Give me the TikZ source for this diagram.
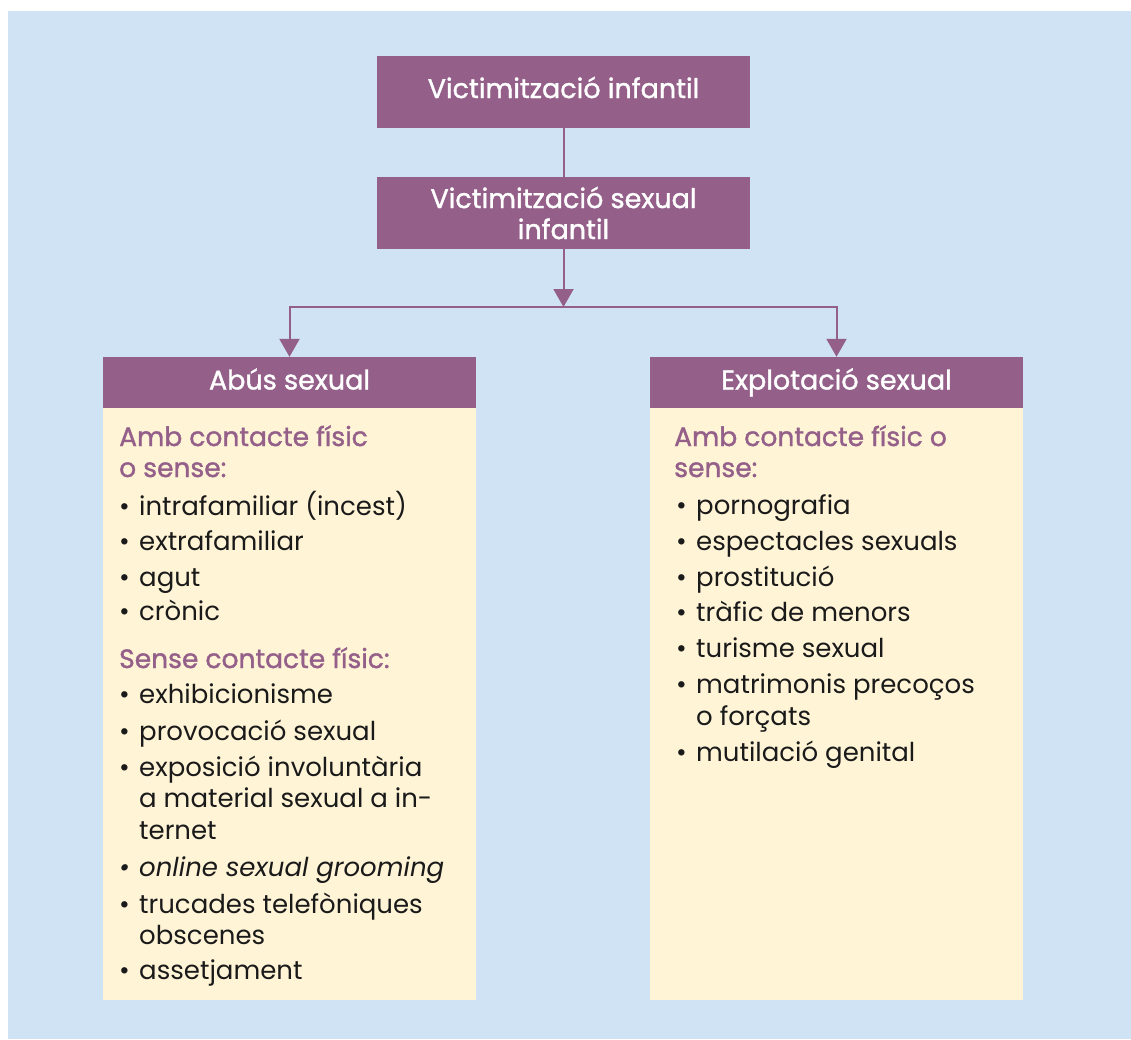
\documentclass[tikz,border=0pt]{standalone}
\usepackage{fontspec}
\setmainfont{Poppins}
\newfontfamily\medfont[FakeBold=1.3]{Poppins}
\usetikzlibrary{arrows.meta}
\definecolor{bgblue}{HTML}{D0E3F4}
\definecolor{plum}{HTML}{94608A}
\definecolor{cream}{HTML}{FFF4D6}
\definecolor{ink}{HTML}{1A1A1A}
\newcommand\bodysize{\fontsize{26}{30}\selectfont}
\newcommand\bl{\makebox[20pt][l]{•}}
\tikzset{
  topbox/.style={fill=plum, text=white, minimum width=373pt, minimum height=72pt,
    inner sep=0pt, align=center, font=\medfont\fontsize{27}{31}\selectfont},
  headbox/.style={fill=plum, text=white, minimum width=373pt, minimum height=51pt,
    inner sep=0pt, text height=19pt, text depth=5pt, font=\medfont\fontsize{27}{30}\selectfont},
  bodybox/.style={fill=cream, minimum width=373pt, minimum height=592pt, inner sep=0pt},
  subhead/.style={anchor=base west, inner sep=0pt, text=plum, font=\medfont\fontsize{26.5}{30}\selectfont},
  item/.style={anchor=base west, inner sep=0pt, text=ink, font=\bodysize},
  link/.style={draw=plum, line width=2pt},
  arrowlink/.style={link, -{Triangle[length=18pt,width=20pt]}}
}
\begin{document}
\begin{tikzpicture}[x=1pt,y=-1pt]
\useasboundingbox (0,0) rectangle (1131,1039);
\fill[bgblue] (8,11) rectangle (1131,1039);

\node[topbox, text height=18pt, text depth=6pt] (vi) at (563.5,92) {Victimització infantil};
\node[topbox] (vsi) at (563.5,213) {Victimització sexual\\infantil};
\node[headbox] (abus) at (289.5,382.5) {Abús sexual};
\node[headbox] (expl) at (836.5,382.5) {Explotació sexual};
\node[bodybox] (abusbody) at (289.5,704) {};
\node[bodybox] (explbody) at (836.5,704) {};

\coordinate (J) at (563.5,307);
\draw[link] (vi.south) -- (vsi.north);
\draw[arrowlink] (vsi.south) -- (J);
\draw[arrowlink] (J) -| (abus.north);
\draw[arrowlink] (J) -| (expl.north);

% left list
\node[subhead] (la1) at (119,446) {Amb contacte físic};
\node[subhead] (la2) at (119,477) {o sense:};
\node[item] (lb1) at (119,515) {\bl intrafamiliar (incest)};
\node[item] (lb2) at (119,550) {\bl extrafamiliar};
\node[item] (lb3) at (119,586) {\bl agut};
\node[item] (lb4) at (119,620) {\bl crònic};
\node[subhead] (lc1) at (119,668) {Sense contacte físic:};
\node[item] (ld1) at (119,703) {\bl exhibicionisme};
\node[item] (ld2) at (119,740) {\bl provocació sexual};
\node[item] (ld3) at (119,776) {\bl exposició involuntària};
\node[item] (ld3b) at (139,807) {a material sexual a in-};
\node[item] (ld3c) at (139,839) {ternet};
\node[item] (ld4) at (119,876) {\itshape\bl online sexual grooming};
\node[item] (ld5) at (119,913) {\bl trucades telefòniques};
\node[item] (ld5b) at (139,944) {obscenes};
\node[item] (ld6) at (119,979) {\bl assetjament};

% right list
\node[subhead] (ra1) at (674,446) {Amb contacte físic o};
\node[subhead] (ra2) at (674,477) {sense:};
\node[item] (rb1) at (676,514) {\bl pornografia};
\node[item] (rb2) at (676,550) {\bl espectacles sexuals};
\node[item] (rb3) at (676,586) {\bl prostitució};
\node[item] (rb4) at (676,621) {\bl tràfic de menors};
\node[item] (rb5) at (676,657) {\bl turisme sexual};
\node[item] (rb6) at (676,693) {\bl matrimonis precoços};
\node[item] (rb6b) at (696,725) {o forçats};
\node[item] (rb7) at (676,761) {\bl mutilació genital};
\end{tikzpicture}
\end{document}
